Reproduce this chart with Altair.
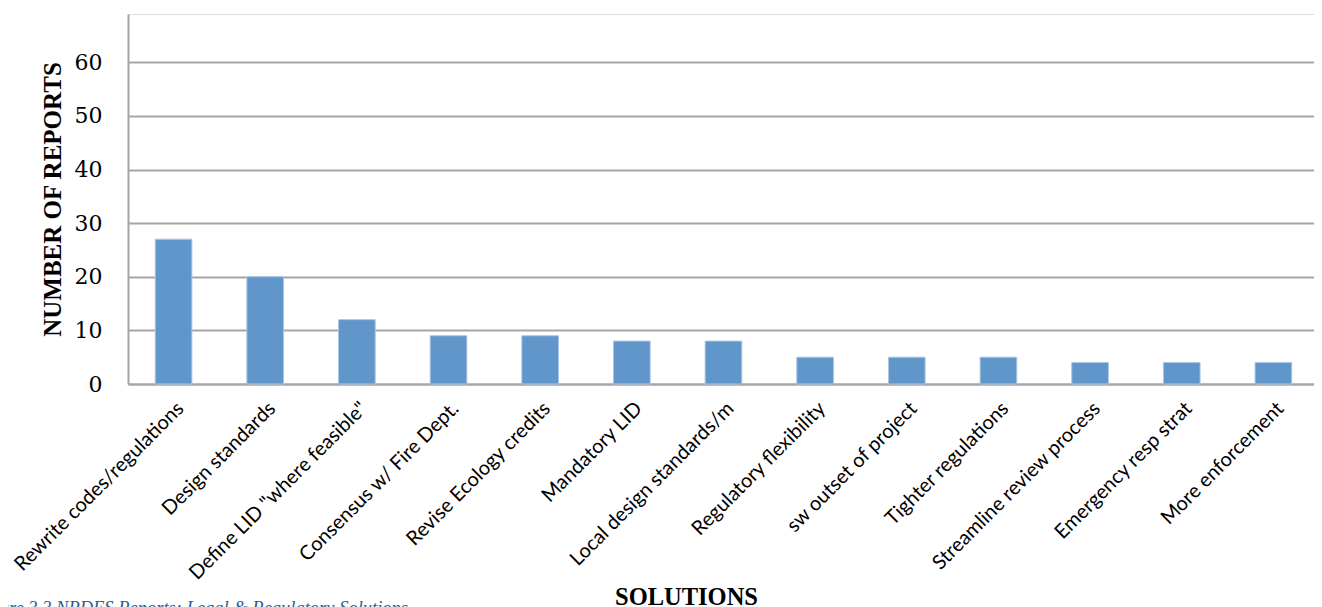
import altair as alt
import pandas as pd

categories = [
    "Rewrite codes/regulations",
    "Design standards",
    'Define LID "where feasible"',
    "Consensus w/ Fire Dept.",
    "Revise Ecology credits",
    "Mandatory LID",
    "Local design standards/m",
    "Regulatory flexibility",
    "sw outset of project",
    "Tighter regulations",
    "Streamline review process",
    "Emergency resp strat",
    "More enforcement",
]
reports = [27, 20, 12, 9, 9, 8, 8, 5, 5, 5, 4, 4, 4]
y_ticks = [0, 10, 20, 30, 40, 50, 60]
caption = "Figure 3.3 NPDES Reports: Legal & Regulatory Solutions"

df = pd.DataFrame({"solution": categories, "reports": reports})

bars = alt.Chart(df).mark_bar(
    color="#6096CA", stroke="#A9C6E6", strokeWidth=1
).encode(
    x=alt.X(
        "solution:N",
        sort=categories,
        scale=alt.Scale(paddingInner=0.6, paddingOuter=0.27, align=0.55, round=False),
        axis=alt.Axis(
            title="SOLUTIONS",
            titleFont="Liberation Serif",
            titleFontSize=24.5,
            titleFontWeight="bold",
            titleColor="#000000",
            titleX=558,
            titleY=220,
            titleBaseline="alphabetic",
            labelFont="Lato",
            labelFontSize=20,
            labelColor="#000000",
            labelAngle=-45,
            labelAlign="right",
            labelBaseline="top",
            labelPadding=14,
            labelOverlap=False,
            labelLimit=400,
            ticks=False,
            domainColor="#A6A6A6",
            domainWidth=2,
            grid=False,
        ),
    ),
    y=alt.Y(
        "reports:Q",
        scale=alt.Scale(domain=[0, 69], nice=False),
        axis=alt.Axis(
            title="NUMBER OF REPORTS",
            titleFont="Liberation Serif",
            titleFontSize=25,
            titleFontWeight="bold",
            titleColor="#000000",
            titlePadding=9,
            values=y_ticks,
            labelFont="DejaVu Serif",
            labelFontSize=22,
            labelColor="#000000",
            labelPadding=26,
            ticks=False,
            domainColor="#A6A6A6",
            domainWidth=2,
            gridColor="#A6A6A6",
            gridWidth=2,
        ),
    ),
)

cap = alt.Chart(pd.DataFrame({"t": [caption]})).mark_text(
    align="left",
    baseline="top",
    font="Liberation Serif",
    fontSize=18.5,
    fontStyle="italic",
    color="#2F5C8F",
).encode(
    text="t:N",
    x=alt.value(-154),
    y=alt.value(585),
)

chart = alt.layer(bars, cap).properties(
    width=1186,
    height=370,
    autosize=alt.AutoSizeParams(type="none"),
    padding={"left": 120, "top": 6, "right": 0, "bottom": 225},
).configure_view(stroke=None).configure(background="#FFFFFF")

chart.save("out.html", embed_options={"renderer": "svg", "actions": False})
